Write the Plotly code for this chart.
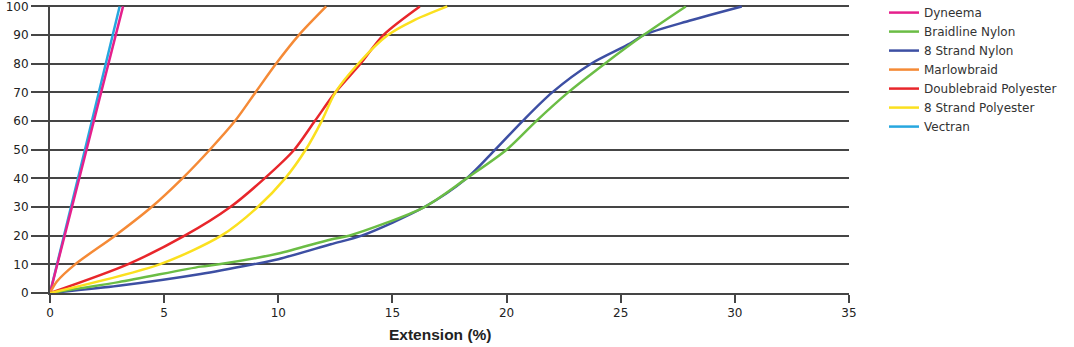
import plotly.graph_objects as go

# Extension (%) vs load (% of break strength)
dyneema_x = [0, 1.6, 3.2]
dyneema_y = [0, 50, 100]

vectran_x = [0, 1.53, 3.05]
vectran_y = [0, 50, 100]

braidline_x = [0, 3.0, 6.6, 7.4, 10.0, 12.3, 13.1, 16.4, 18.25, 20.0, 21.3, 22.7, 24.3, 26.0, 27.85]
braidline_y = [0, 3.8, 9.2, 10, 13.8, 18.7, 20, 30, 40, 50, 60, 70, 80, 90, 100]

nylon8_x = [0, 3.0, 6.6, 8.9, 10.0, 12.3, 13.65, 16.4, 18.25, 19.5, 20.7, 22.0, 23.7, 25.4, 26.0, 28.0, 30.3]
nylon8_y = [0, 2.5, 6.6, 10, 11.8, 17, 20, 30, 40, 50, 60, 70, 80, 87, 90, 95, 100]

marlow_x = [0, 0.3, 1.1, 2.85, 4.45, 5.8, 7.0, 8.1, 9.0, 9.9, 10.9, 12.1]
marlow_y = [0, 4, 10, 20, 30, 40, 50, 60, 70, 80, 90, 100]

dbpoly_x = [0, 3.4, 5.9, 7.9, 9.4, 10.7, 11.6, 12.5, 13.6, 14.6, 16.2]
dbpoly_y = [0, 10, 20, 30, 40, 50, 60, 70, 80, 90, 100]

poly8_x = [0, 4.8, 7.5, 9.1, 10.3, 11.2, 11.9, 12.5, 13.5, 14.8, 15.9, 17.4]
poly8_y = [0, 10, 20, 30, 40, 50, 60, 70, 80, 90, 95, 100]

x_ticks = [0, 5, 10, 15, 20, 25, 30, 35]
y_ticks = [0, 10, 20, 30, 40, 50, 60, 70, 80, 90, 100]

# (name, x, y, color, legend rank) in drawing order
series = [
    ("Vectran", vectran_x, vectran_y, "#27a7df", 7),
    ("Dyneema", dyneema_x, dyneema_y, "#e5208c", 1),
    ("8 Strand Nylon", nylon8_x, nylon8_y, "#3d4fa3", 3),
    ("Braidline Nylon", braidline_x, braidline_y, "#6bbd45", 2),
    ("Marlowbraid", marlow_x, marlow_y, "#f58a36", 4),
    ("Doublebraid Polyester", dbpoly_x, dbpoly_y, "#e8262b", 5),
    ("8 Strand Polyester", poly8_x, poly8_y, "#fbe01f", 6),
]

fig = go.Figure()
for name, xs, ys, col, rank in series:
    fig.add_trace(go.Scatter(
        x=xs, y=ys, name=name, mode="lines",
        line=dict(color=col, width=2.5, shape="spline", smoothing=0.8),
        legendrank=rank,
    ))

grid_col = "#454545"
fig.update_layout(
    width=1074, height=347,
    margin=dict(l=50, r=225, t=5, b=54, autoexpand=False),
    paper_bgcolor="white", plot_bgcolor="white",
    font=dict(family="DejaVu Sans, sans-serif", size=12, color="#222"),
    showlegend=True,
    legend=dict(x=1.0438, y=1.024, xanchor="left", yanchor="top",
                font=dict(family="DejaVu Sans, sans-serif", size=12, color="#333"),
                tracegroupgap=0, itemwidth=30, traceorder="normal",
                bgcolor="rgba(0,0,0,0)"),
    xaxis=dict(
        range=[0, 35], tickvals=x_ticks, ticktext=[str(v) for v in x_ticks],
        showgrid=False, zeroline=False,
        showline=True, linecolor=grid_col, linewidth=2,
        ticks="outside", ticklen=8, tickwidth=2, tickcolor=grid_col,
        tickfont=dict(size=12, color="#222"),
        fixedrange=True,
    ),
    yaxis=dict(
        range=[0, 100.5], tickvals=y_ticks, ticktext=[str(v) for v in y_ticks],
        showgrid=True, gridcolor=grid_col, gridwidth=2,
        zeroline=False,
        showline=True, linecolor=grid_col, linewidth=2,
        ticks="outside", ticklen=17, tickwidth=2, tickcolor=grid_col,
        tickfont=dict(size=12, color="#222"),
        ticklabeloverflow="allow",
        fixedrange=True,
    ),
    annotations=[dict(
        text="<b>Extension (%)</b>", xref="x", yref="paper",
        x=17.1, y=0, yshift=-41, xanchor="center", yanchor="middle",
        showarrow=False,
        font=dict(family="Liberation Sans, Arial, sans-serif", size=15.5, color="#222"),
    )],
)

fig.write_html("out.html")
